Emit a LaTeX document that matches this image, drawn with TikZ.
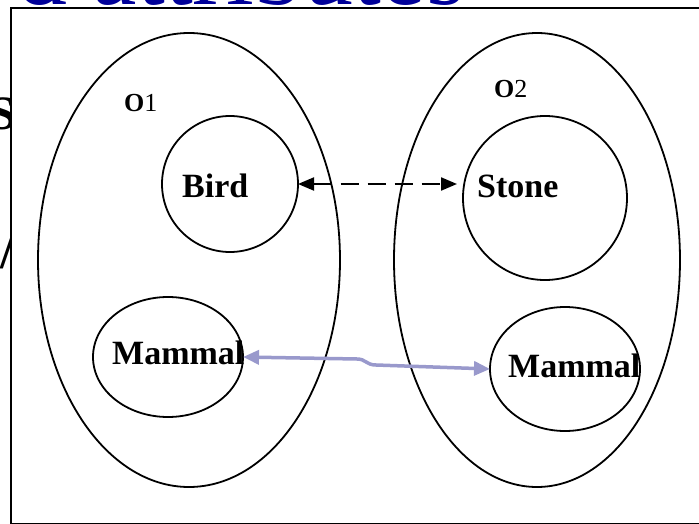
\documentclass[tikz,border=0pt]{standalone}
\usepackage{fontspec}
\setmainfont{Liberation Serif}
\usetikzlibrary{shapes.geometric,arrows.meta}
\definecolor{titleblue}{RGB}{0,0,153}
\definecolor{lav}{RGB}{153,153,204}
\tikzset{
  outline/.style={draw=black, line width=1.8pt, inner sep=0pt, outer sep=0pt},
  lbl/.style={font=\fontsize{34}{40}\selectfont\bfseries, inner sep=0pt, anchor=base west},
  olbl/.style={font=\fontsize{26}{30}\selectfont, inner sep=0pt, anchor=base west},
  dasharrow/.style={line width=2pt, dash pattern=on 18pt off 9pt,
    {Triangle[length=16pt,width=13pt]}-{Triangle[length=16pt,width=13pt]}},
  lavarrow/.style={draw=lav, line width=3.5pt,
    {Triangle[length=16pt,width=14pt]}-{Triangle[length=16pt,width=14pt]}},
  behind/.style={inner sep=0pt, outer sep=0pt},
}
\begin{document}
\begin{tikzpicture}[x=1pt,y=-1pt]
\clip (0,0) rectangle (699,524);
% text of the slide behind the frame
\node[behind, anchor=base east, text=titleblue, font=\fontsize{100}{110}\selectfont] (title) at (465,5) {d attributes};
\node[behind, anchor=base east, font=\fontsize{48}{54}\selectfont\bfseries] (bgS) at (16,130) {S};
\node[behind, anchor=base east, font=\fontsize{48}{54}\selectfont\bfseries] (bgSlash) at (14,268) {/};
% frame
\node[draw=black, fill=white, line width=2pt, inner sep=0pt, anchor=north west,
      minimum width=700pt, minimum height=516pt] (frame) at (10,7) {};
% large ellipses
\node[outline, ellipse, minimum width=302pt, minimum height=454pt] (o1) at (189,260) {};
\node[outline, ellipse, minimum width=286pt, minimum height=454pt] (o2) at (537,260) {};
% inner shapes
\node[outline, circle, minimum size=136pt] (bird) at (230,184) {};
\node[outline, circle, minimum size=164pt] (stone) at (545,198) {};
\node[outline, ellipse, minimum width=150pt, minimum height=120pt] (mam1) at (168,357) {};
\node[outline, ellipse, minimum width=150pt, minimum height=124pt] (mam2) at (565,369) {};
% labels
\node[olbl] (o1lbl) at (124,112) {\textbf{O}1};
\node[olbl] (o2lbl) at (494,98) {\textbf{O}2};
\node[lbl] (birdlbl) at (182,197) {Bird};
\node[lbl] (stonelbl) at (477,197) {Stone};
\node[lbl] (mam1lbl) at (112,364) {Mammal};
\node[lbl] (mam2lbl) at (508,377) {Mammal};
% connectors
\draw[dasharrow] (bird.east) -- ([xshift=-6pt]bird.east -| stone.west);
\coordinate (w1) at (357,359);
\coordinate (w2) at (376,365);
\draw[lavarrow] (mam1.east) -- (w1) .. controls (366,359) and (366,365) .. (w2) -- (mam2.west);
\end{tikzpicture}
\end{document}
